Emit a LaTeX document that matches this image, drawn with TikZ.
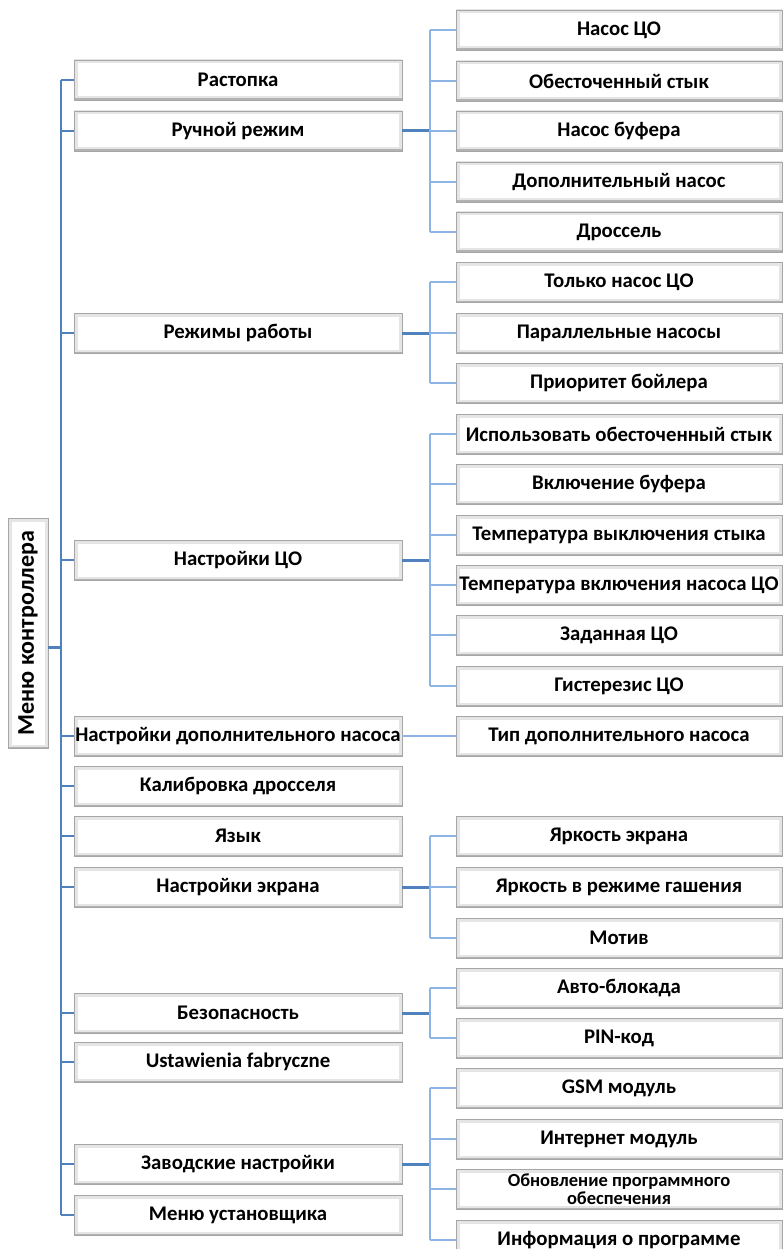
\documentclass[tikz,border=0pt]{standalone}
\usepackage{fontspec}
\setmainfont{Carlito}
\definecolor{trunkblue}{HTML}{4F81BD}
\definecolor{branchblue}{HTML}{8EB4E3}
\tikzset{
  menu box/.style={draw=black!35, fill=white, line width=0.8pt,
    minimum width=328pt, minimum height=40pt, inner sep=1pt,
    font=\fontsize{20.8}{22}\selectfont\bfseries,
    path picture={\draw[black!10, line width=7pt]
      (path picture bounding box.south west) rectangle (path picture bounding box.north east);
      \draw[black!30, line width=3pt] (path picture bounding box.south west) -- (path picture bounding box.south east);}},
  sub box/.style={menu box, minimum width=326pt},
  root box/.style={menu box, rotate=90, minimum width=230pt, minimum height=40pt,
    font=\fontsize{24}{26}\selectfont\bfseries},
  trunk/.style={draw=trunkblue, line width=2.6pt},
  stub/.style={draw=trunkblue, line width=3pt},
  branch/.style={draw=branchblue, line width=1.8pt},
}

\begin{document}
\begin{tikzpicture}[x=1pt, y=-1pt]
  \useasboundingbox (0,0) rectangle (782,1249);
  \coordinate (mtop) at (61,80);  \coordinate (mbot) at (61,1215);
  \coordinate (sx)   at (430,0);
  \node[root box] (root) at (28,633) {Меню контроллера};
  \coordinate (rootout) at (48,647);
  % first level
  \foreach \i/\y/\txt in {1/80/Растопка, 2/131/Ручной режим, 3/333/Режимы работы,
      4/560/Настройки ЦО, 5/736/Настройки дополнительного насоса,
      6/786/Калибровка дросселя, 7/836/Язык, 8/887/Настройки экрана,
      9/1013/Безопасность, 10/1062/Ustawienia fabryczne,
      11/1164/Заводские настройки, 12/1215/Меню установщика}
    \node[menu box] (l\i) at (238,\y) {\txt};
  % second level
  \foreach \i/\y/\txt in {1/30/Насос ЦО, 2/81/Обесточенный стык, 3/131/Насос буфера,
      4/182/Дополнительный насос, 5/232/Дроссель,
      6/282/Только насос ЦО, 7/333/Параллельные насосы, 8/383/Приоритет бойлера,
      9/434/Использовать обесточенный стык, 10/484/Включение буфера,
      11/535/Температура выключения стыка, 12/585/Температура включения насоса ЦО,
      13/635/Заданная ЦО, 14/686/Гистерезис ЦО,
      15/736/Тип дополнительного насоса,
      16/836/Яркость экрана, 17/887/Яркость в режиме гашения, 18/938/Мотив,
      19/988/Авто-блокада, 20/1038/PIN-код,
      21/1088/GSM модуль, 22/1139/Интернет модуль, 24/1240/Информация о программе}
    \node[sub box] (s\i) at (619,\y) {\txt};
  \node[sub box, align=center, font=\fontsize{18.5}{18}\selectfont\bfseries] (s23) at (619,1189)
    {Обновление программного\\обеспечения};

  % connectors
  \draw[stub] (rootout) -- (rootout -| mtop);
  \draw[trunk] (mtop) -- (mbot);
  \foreach \i in {1,...,12}
    \draw[branch, draw=trunkblue] (l\i.west -| mtop) -- (l\i.west);
  \foreach \p/\a/\b in {2/1/5, 3/6/8, 4/9/14, 8/16/18, 9/19/20, 11/21/24}{
    \draw[stub] (l\p.east) -- (l\p.east -| sx);
    \draw[branch] (s\a.west -| sx) -- (s\b.west -| sx);
    \foreach \c in {\a,...,\b}
      \draw[branch] (s\c.west -| sx) -- (s\c.west);
  }
  \draw[branch] (l5.east) -- (s15.west);
\end{tikzpicture}
\end{document}
